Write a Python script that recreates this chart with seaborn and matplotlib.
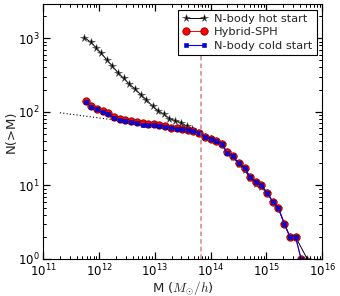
import numpy as np
import pandas as pd
import matplotlib
matplotlib.use("Agg")
import matplotlib.pyplot as plt
import seaborn as sns
from matplotlib.ticker import LogLocator, NullFormatter, NullLocator

# ---- data ----
logM_sph = [11.76, 11.86, 11.96, 12.07, 12.17, 12.27, 12.37, 12.47, 12.58, 12.68,
            12.78, 12.88, 12.98, 13.08, 13.18, 13.29, 13.39, 13.49, 13.59, 13.69,
            13.79, 13.89, 14.00, 14.10, 14.20, 14.30, 14.40, 14.50, 14.61, 14.71,
            14.81, 14.91, 15.01, 15.11, 15.21, 15.32, 15.42, 15.52, 15.62]
N_sph = [138, 118, 110, 101, 96, 86, 81, 77, 75, 72,
         70, 68, 68, 67, 64.5, 61, 60, 59, 57, 55,
         51.5, 46, 43, 40, 36.5, 28, 25, 20, 17, 13,
         11, 10, 8, 6, 5, 3, 2, 2, 1]
N_cold = [136, 116, 108, 99, 93, 82, 78, 74, 73, 70,
          67, 66, 66, 65, 63, 60, 59, 58, 56, 54,
          51, 45.5, 42.5, 39.5, 36, 27.5, 25, 20, 17, 13,
          11, 10, 8, 6, 5, 3, 2, 2, 1]

logM_hot = [11.74, 11.85, 11.95, 12.04, 12.14, 12.24, 12.34, 12.44, 12.54, 12.65,
            12.75, 12.85, 12.96, 13.06, 13.16, 13.26, 13.36, 13.47, 13.57, 13.67,
            13.77, 13.89, 14.00, 14.10, 14.20, 14.30, 14.40, 14.50, 14.61, 14.71,
            14.81, 14.91, 15.01, 15.11, 15.21, 15.32, 15.42, 15.52, 15.73]
N_hot = [1020, 883, 739, 621, 509, 417, 339, 285, 239, 203,
         170, 145, 119, 103, 93, 81, 76, 71, 64, 58,
         52, 46, 43, 40, 36, 28, 24.5, 19.5, 16, 12.5,
         10.5, 9.5, 8, 6, 5, 3, 2, 2, 1]

logM_fit = [11.3, 13.6]
N_fit = [97, 57]

M_cut = 6.6e13

XLIM = (1e11, 1e16)
YLIM = (1, 2900)

# ---- figure ----
sns.set_style("ticks")
plt.rcParams['font.family'] = ['DejaVu Sans']
plt.rcParams['mathtext.fontset'] = 'cm'

fig = plt.figure(figsize=(3.4, 2.96), dpi=100)
rect = [0.127, 0.125, 0.821, 0.861]
ax = fig.add_axes(rect)

hot = pd.DataFrame({"M": np.power(10.0, logM_hot), "N": N_hot})
sph = pd.DataFrame({"M": np.power(10.0, logM_sph), "N": N_sph})
cold = pd.DataFrame({"M": np.power(10.0, logM_sph), "N": N_cold})
fit = pd.DataFrame({"M": np.power(10.0, logM_fit), "N": N_fit})

sns.lineplot(data=fit, x="M", y="N", ax=ax, color="black", linestyle=(0, (1, 2)),
             linewidth=0.8, estimator=None, sort=False)
sns.lineplot(data=hot, x="M", y="N", ax=ax, color="black", marker="*",
             markersize=5.5, markeredgecolor="0.3", markeredgewidth=0.4,
             linewidth=0.7, estimator=None, label="N-body hot start")
sns.lineplot(data=sph, x="M", y="N", ax=ax, color="red", marker="o",
             markersize=5.3, markeredgecolor="darkred", markeredgewidth=0.6,
             linewidth=0.7, estimator=None, label="Hybrid-SPH")
sns.lineplot(data=cold, x="M", y="N", ax=ax, color="blue", marker="s",
             markersize=3, markeredgecolor="navy", markeredgewidth=0.4,
             linewidth=0.8, estimator=None, label="N-body cold start")

ax.axvline(M_cut, color="indianred", linestyle=(0, (3, 2)), linewidth=1.1, alpha=0.75)

ax.set_xlabel(r"M ($M_{\odot}/h$)", fontsize=9.5, labelpad=0)
ax.set_ylabel("N(>M)", fontsize=9.5, labelpad=0)

leg = ax.legend(loc="upper right", numpoints=2, fontsize=8.2, frameon=True,
                fancybox=False, framealpha=1, edgecolor="black",
                handlelength=2.2, borderpad=0.35, labelspacing=0.3,
                handletextpad=0.6, borderaxespad=0.5)
leg.get_frame().set_linewidth(0.8)

for s in ax.spines.values():
    s.set_color("black")

ax.set_xscale("log")
ax.set_yscale("log")
ax.set_xlim(*XLIM)
ax.set_ylim(*YLIM)
ax.xaxis.set_minor_formatter(NullFormatter())
ax.yaxis.set_minor_formatter(NullFormatter())
ax.tick_params(which="both", direction="in", top=True, right=True, labelsize=8.5,
               colors="black")
ax.tick_params(which="minor", length=2.5, width=0.7)
ax.tick_params(which="major", length=5, width=0.9, pad=2.5)

# overlay axes that carries the minor tick marks (same scale and limits)
ax2 = fig.add_axes(rect, frameon=False)
ax2.patch.set_visible(False)
ax2.set_xscale("log")
ax2.set_yscale("log")
ax2.set_xlim(*XLIM)
ax2.set_ylim(*YLIM)
ax2.xaxis.set_major_locator(NullLocator())
ax2.yaxis.set_major_locator(NullLocator())
ax2.xaxis.set_minor_locator(LogLocator(base=10, subs=np.arange(2, 10), numticks=100))
ax2.yaxis.set_minor_locator(LogLocator(base=10, subs=np.arange(2, 10), numticks=100))
ax2.xaxis.set_minor_formatter(NullFormatter())
ax2.yaxis.set_minor_formatter(NullFormatter())
ax2.tick_params(which="minor", direction="in", length=2.5, width=0.7,
                bottom=True, top=True, left=True, right=True,
                labelbottom=False, labelleft=False, colors="black")
ax2.set_navigate(False)

fig.savefig("out.png", dpi=100)
